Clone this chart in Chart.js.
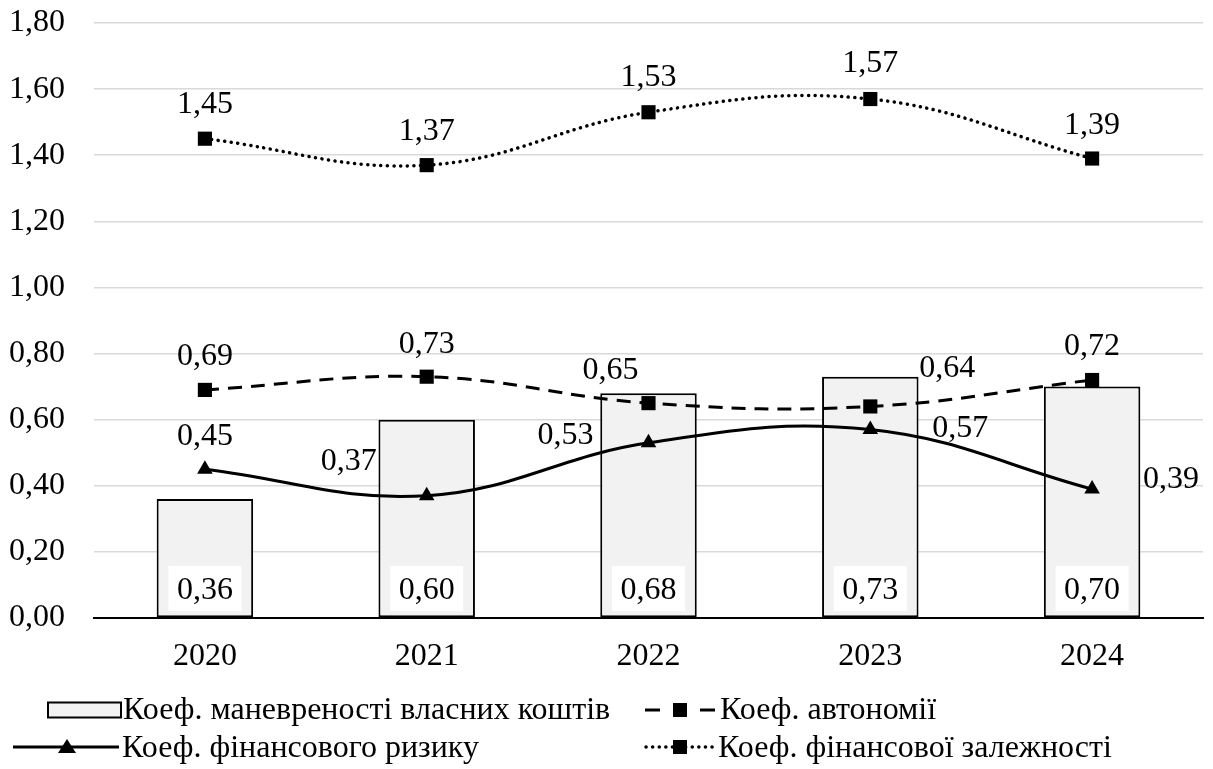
<!DOCTYPE html>
<html><head><meta charset="utf-8">
<script src="https://cdn.jsdelivr.net/npm/chart.js@4.4.1/dist/chart.umd.min.js"></script>
<style>
html,body{margin:0;padding:0;background:#fff;}
#wrap{position:relative;width:1213px;height:769px;overflow:hidden;}
#c{position:absolute;left:0;top:0;}
.item{position:absolute;height:34px;font-family:'Liberation Serif','Times New Roman',serif;font-size:32px;line-height:34px;color:#000;white-space:nowrap;}
.item svg{position:absolute;top:0;}
.item span{position:absolute;top:0;}
</style></head><body>
<div id="wrap"><canvas id="c" width="1213" height="769"></canvas><div id="legend"></div></div>
<script>
const categories = ['2020', '2021', '2022', '2023', '2024'];
const seriesNames = ['Коеф. маневреності власних коштів', 'Коеф. автономії', 'Коеф. фінансового ризику', 'Коеф. фінансової залежності'];
const manoeuvrability = [0.36, 0.60, 0.68, 0.73, 0.70];
const autonomy = [0.69, 0.73, 0.65, 0.64, 0.72];
const financialRisk = [0.45, 0.37, 0.53, 0.57, 0.39];
const financialDependence = [1.45, 1.37, 1.53, 1.57, 1.39];
const yMin = 0, yMax = 1.8, yStep = 0.2;

const FONT = "'Liberation Serif', 'Times New Roman', serif";
const FS = 32;
const fmt = v => Number(v).toFixed(2).replace('.', ',');

const labelPlugin = {
  id: 'valueLabels',
  afterDatasetsDraw(chart, args, opts) {
    const ctx = chart.ctx;
    ctx.save();
    ctx.font = FS + 'px ' + FONT;
    ctx.textAlign = 'center';
    ctx.textBaseline = 'middle';
    const zeroY = chart.scales.y.getPixelForValue(0);
    chart.data.datasets.forEach((ds, i) => {
      const meta = chart.getDatasetMeta(i);
      meta.data.forEach((el, j) => {
        const txt = fmt(ds.data[j]);
        if (ds.type === 'bar') {
          const cy = zeroY - 29.5;
          ctx.fillStyle = '#ffffff';
          ctx.fillRect(el.x - 36.5, cy - 22.5, 73, 45);
          ctx.fillStyle = '#000';
          ctx.fillText(txt, el.x, cy + 2);
        } else {
          const off = opts.offsets[ds.key][j];
          ctx.fillStyle = '#000';
          ctx.fillText(txt, el.x + off[0], el.y + off[1] + 2);
        }
      });
    });
    ctx.restore();
  }
};

new Chart(document.getElementById('c'), {
  type: 'bar',
  data: {
    labels: categories,
    datasets: [
      { type: 'line', key: 'dep', label: seriesNames[3], data: financialDependence, order: 1,
        borderColor: '#000', borderWidth: 3.5, borderDash: [0.1, 6.5], borderCapStyle: 'round',
        tension: 0.4, pointStyle: 'rect', pointRadius: 10, pointBackgroundColor: '#000', pointBorderColor: '#000', pointBorderWidth: 0, fill: false },
      { type: 'line', key: 'aut', label: seriesNames[1], data: autonomy, order: 2,
        borderColor: '#000', borderWidth: 3, borderDash: [14, 9],
        tension: 0.4, pointStyle: 'rect', pointRadius: 10, pointBackgroundColor: '#000', pointBorderColor: '#000', pointBorderWidth: 0, fill: false },
      { type: 'line', key: 'risk', label: seriesNames[2], data: financialRisk, order: 3,
        borderColor: '#000', borderWidth: 3,
        tension: 0.4, pointStyle: 'triangle', pointRadius: 9, pointBackgroundColor: '#000', pointBorderColor: '#000', pointBorderWidth: 0, fill: false },
      { type: 'bar', key: 'man', label: seriesNames[0], data: manoeuvrability, order: 5,
        backgroundColor: '#f2f2f2', borderColor: '#000', borderWidth: 2, borderSkipped: false,
        categoryPercentage: 1.0, barPercentage: 0.435 }
    ]
  },
  options: {
    responsive: false,
    animation: false,
    devicePixelRatio: 1,
    layout: { padding: { left: 0, right: 8, top: 23, bottom: 91 } },
    plugins: {
      legend: { display: false },
      tooltip: { enabled: false },
      valueLabels: {
        offsets: {
          dep: [[0, -36], [0, -36], [0, -37], [0, -37], [0, -35]],
          aut: [[0, -35], [0, -34], [-38, -35], [77, -40], [0, -35]],
          risk: [[0, -35], [-78, -36], [-83, -9], [90, -3], [79, -11]]
        }
      }
    },
    scales: {
      x: {
        grid: { display: false, drawTicks: false },
        border: { display: true, color: '#000', width: 2 },
        ticks: { color: '#000', font: { family: FONT, size: FS }, padding: 19 },
        afterFit: s => { s.height = 60; s.paddingLeft = 0; s.paddingRight = 0; }
      },
      y: {
        min: yMin, max: yMax,
        grid: { color: ctx => ctx.tick.value === 0 ? 'rgba(0,0,0,0)' : '#d9d9d9', lineWidth: 1.5, drawTicks: false },
        border: { display: false },
        ticks: { stepSize: yStep, color: '#000', font: { family: FONT, size: FS }, padding: 29,
                 callback: v => fmt(v) },
        afterFit: s => { s.width = 94; s.paddingTop = 0; s.paddingBottom = 0; }
      }
    }
  },
  plugins: [labelPlugin]
});

// HTML legend
const legendItems = [
  { name: seriesNames[0], sym: 'bar',  x: 47,  tx: 123, y: 691 },
  { name: seriesNames[1], sym: 'dash', x: 644, tx: 720, y: 691 },
  { name: seriesNames[2], sym: 'solid',x: 13,  tx: 122, y: 729 },
  { name: seriesNames[3], sym: 'dot',  x: 642, tx: 718, y: 729 }
];
function symbolSvg(sym) {
  if (sym === 'bar') return '<svg width="76" height="36"><rect x="1" y="11.5" width="73" height="15" fill="#f2f2f2" stroke="#000" stroke-width="2"/></svg>';
  if (sym === 'dash') return '<svg width="76" height="36"><line x1="1" y1="19" x2="16" y2="19" stroke="#000" stroke-width="3"/><rect x="29" y="12" width="14" height="14" fill="#000"/><line x1="56" y1="19" x2="71" y2="19" stroke="#000" stroke-width="3"/></svg>';
  if (sym === 'solid') return '<svg width="108" height="36"><line x1="0" y1="18" x2="106" y2="18" stroke="#000" stroke-width="3"/><polygon points="54,10 63,24 45,24" fill="#000"/></svg>';
  return '<svg width="76" height="36"><line x1="4" y1="18" x2="72" y2="18" stroke="#000" stroke-width="3.5" stroke-dasharray="0.1 6.5" stroke-linecap="round"/><rect x="31" y="11" width="14" height="14" fill="#000"/></svg>';
}
const legend = document.getElementById('legend');
legendItems.forEach(it => {
  const d = document.createElement('div');
  d.className = 'item';
  d.style.left = '0px'; d.style.top = it.y + 'px'; d.style.width = '1213px';
  d.innerHTML = symbolSvg(it.sym).replace('<svg', '<svg style="left:' + it.x + 'px"') +
    '<span style="left:' + it.tx + 'px">' + it.name + '</span>';
  legend.appendChild(d);
});
</script>
</body></html>
